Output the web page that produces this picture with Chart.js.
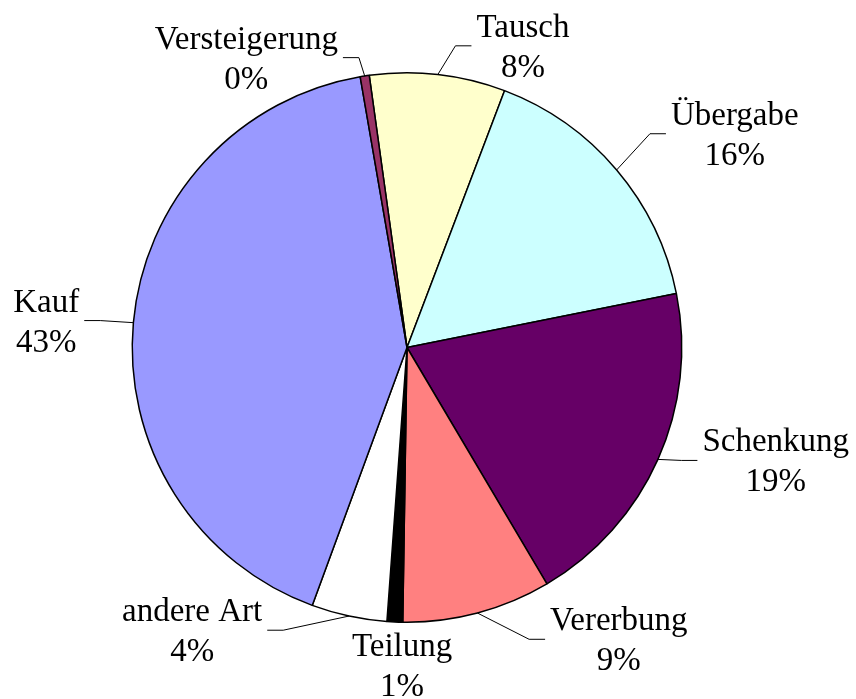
<!DOCTYPE html>
<html>
<head>
<meta charset="utf-8">
<script src="https://cdn.jsdelivr.net/npm/chart.js@4.4.1/dist/chart.umd.min.js"></script>
<style>
  html, body { margin: 0; padding: 0; background: #fff; }
  #wrap { width: 856px; height: 699px; }
</style>
</head>
<body>
<div id="wrap"><canvas id="pieChart"></canvas></div>
<script>
// categories in drawing order (clockwise, starting with Tausch)
const categories = ['Tausch', 'Übergabe', 'Schenkung', 'Vererbung', 'Teilung', 'andere Art', 'Kauf', 'Versteigerung'];
// slice sizes (percent)
const shares = [7.97, 16.08, 19.64, 8.75, 0.92, 4.44, 41.67, 0.53];
// percentage text as printed on the chart
const percentLabels = ['8%', '16%', '19%', '9%', '1%', '4%', '43%', '0%'];
const sliceColors = ['#FFFFCC', '#CCFFFF', '#660066', '#FF8080', '#000000', '#FFFFFF', '#9999FF', '#993366'];

// label block centres, relative to pie centre in units of the radius
const labelSpots = [
    { dx: 0.422, dy: -1.098, leader: true },
    { dx: 1.193, dy: -0.778, leader: true },
    { dx: 1.342, dy: 0.411, leader: true },
    { dx: 0.771, dy: 1.062, leader: true },
    { dx: -0.018, dy: 1.156, leader: false },
    { dx: -0.782, dy: 1.029, leader: true },
    { dx: -1.313, dy: -0.098, leader: true },
    { dx: -0.585, dy: -1.055, leader: true }
];

const FONT = '33px "Liberation Serif", "Times New Roman", serif';

const sliceLabels = {
    id: 'sliceLabels',
    afterDatasetsDraw(chart) {
        const ctx = chart.ctx;
        const arcs = chart.getDatasetMeta(0).data;
        ctx.save();
        ctx.font = FONT;
        ctx.fillStyle = '#000';
        ctx.textAlign = 'center';
        ctx.textBaseline = 'alphabetic';
        arcs.forEach((arc, i) => {
            const r = arc.outerRadius;
            const cx = arc.x + labelSpots[i].dx * r;
            const midY = arc.y + labelSpots[i].dy * r;
            const w = Math.max(ctx.measureText(categories[i]).width, ctx.measureText(percentLabels[i]).width);

            if (labelSpots[i].leader) {
                // leader starts on the rim at the slice's middle angle
                const a = (arc.startAngle + arc.endAngle) / 2;
                const px = arc.x + r * Math.cos(a);
                const py = arc.y + r * Math.sin(a);
                let endX, elbowX;
                if (cx - w / 2 > px) {
                    endX = cx - w / 2 - 5;
                    elbowX = endX - 16;
                } else {
                    endX = cx + w / 2 + 5;
                    elbowX = endX + 16;
                }
                ctx.beginPath();
                ctx.moveTo(px, py);
                ctx.lineTo(elbowX, midY);
                ctx.lineTo(endX, midY);
                ctx.lineWidth = 1;
                ctx.strokeStyle = '#000';
                ctx.stroke();
            }

            ctx.fillText(categories[i], cx, midY - 9);
            ctx.fillText(percentLabels[i], cx, midY + 31);
        });
        ctx.restore();
    }
};

new Chart(document.getElementById('pieChart'), {
    type: 'pie',
    data: {
        labels: categories,
        datasets: [{
            data: shares,
            backgroundColor: sliceColors,
            borderColor: '#000',
            borderWidth: 1.5
        }]
    },
    options: {
        responsive: true,
        maintainAspectRatio: false,
        animation: false,
        rotation: -7.9,
        layout: {
            padding: { left: 131, right: 173, top: 72, bottom: 76 }
        },
        plugins: {
            legend: { display: false },
            tooltip: { enabled: false }
        }
    },
    plugins: [sliceLabels]
});
</script>
</body>
</html>
